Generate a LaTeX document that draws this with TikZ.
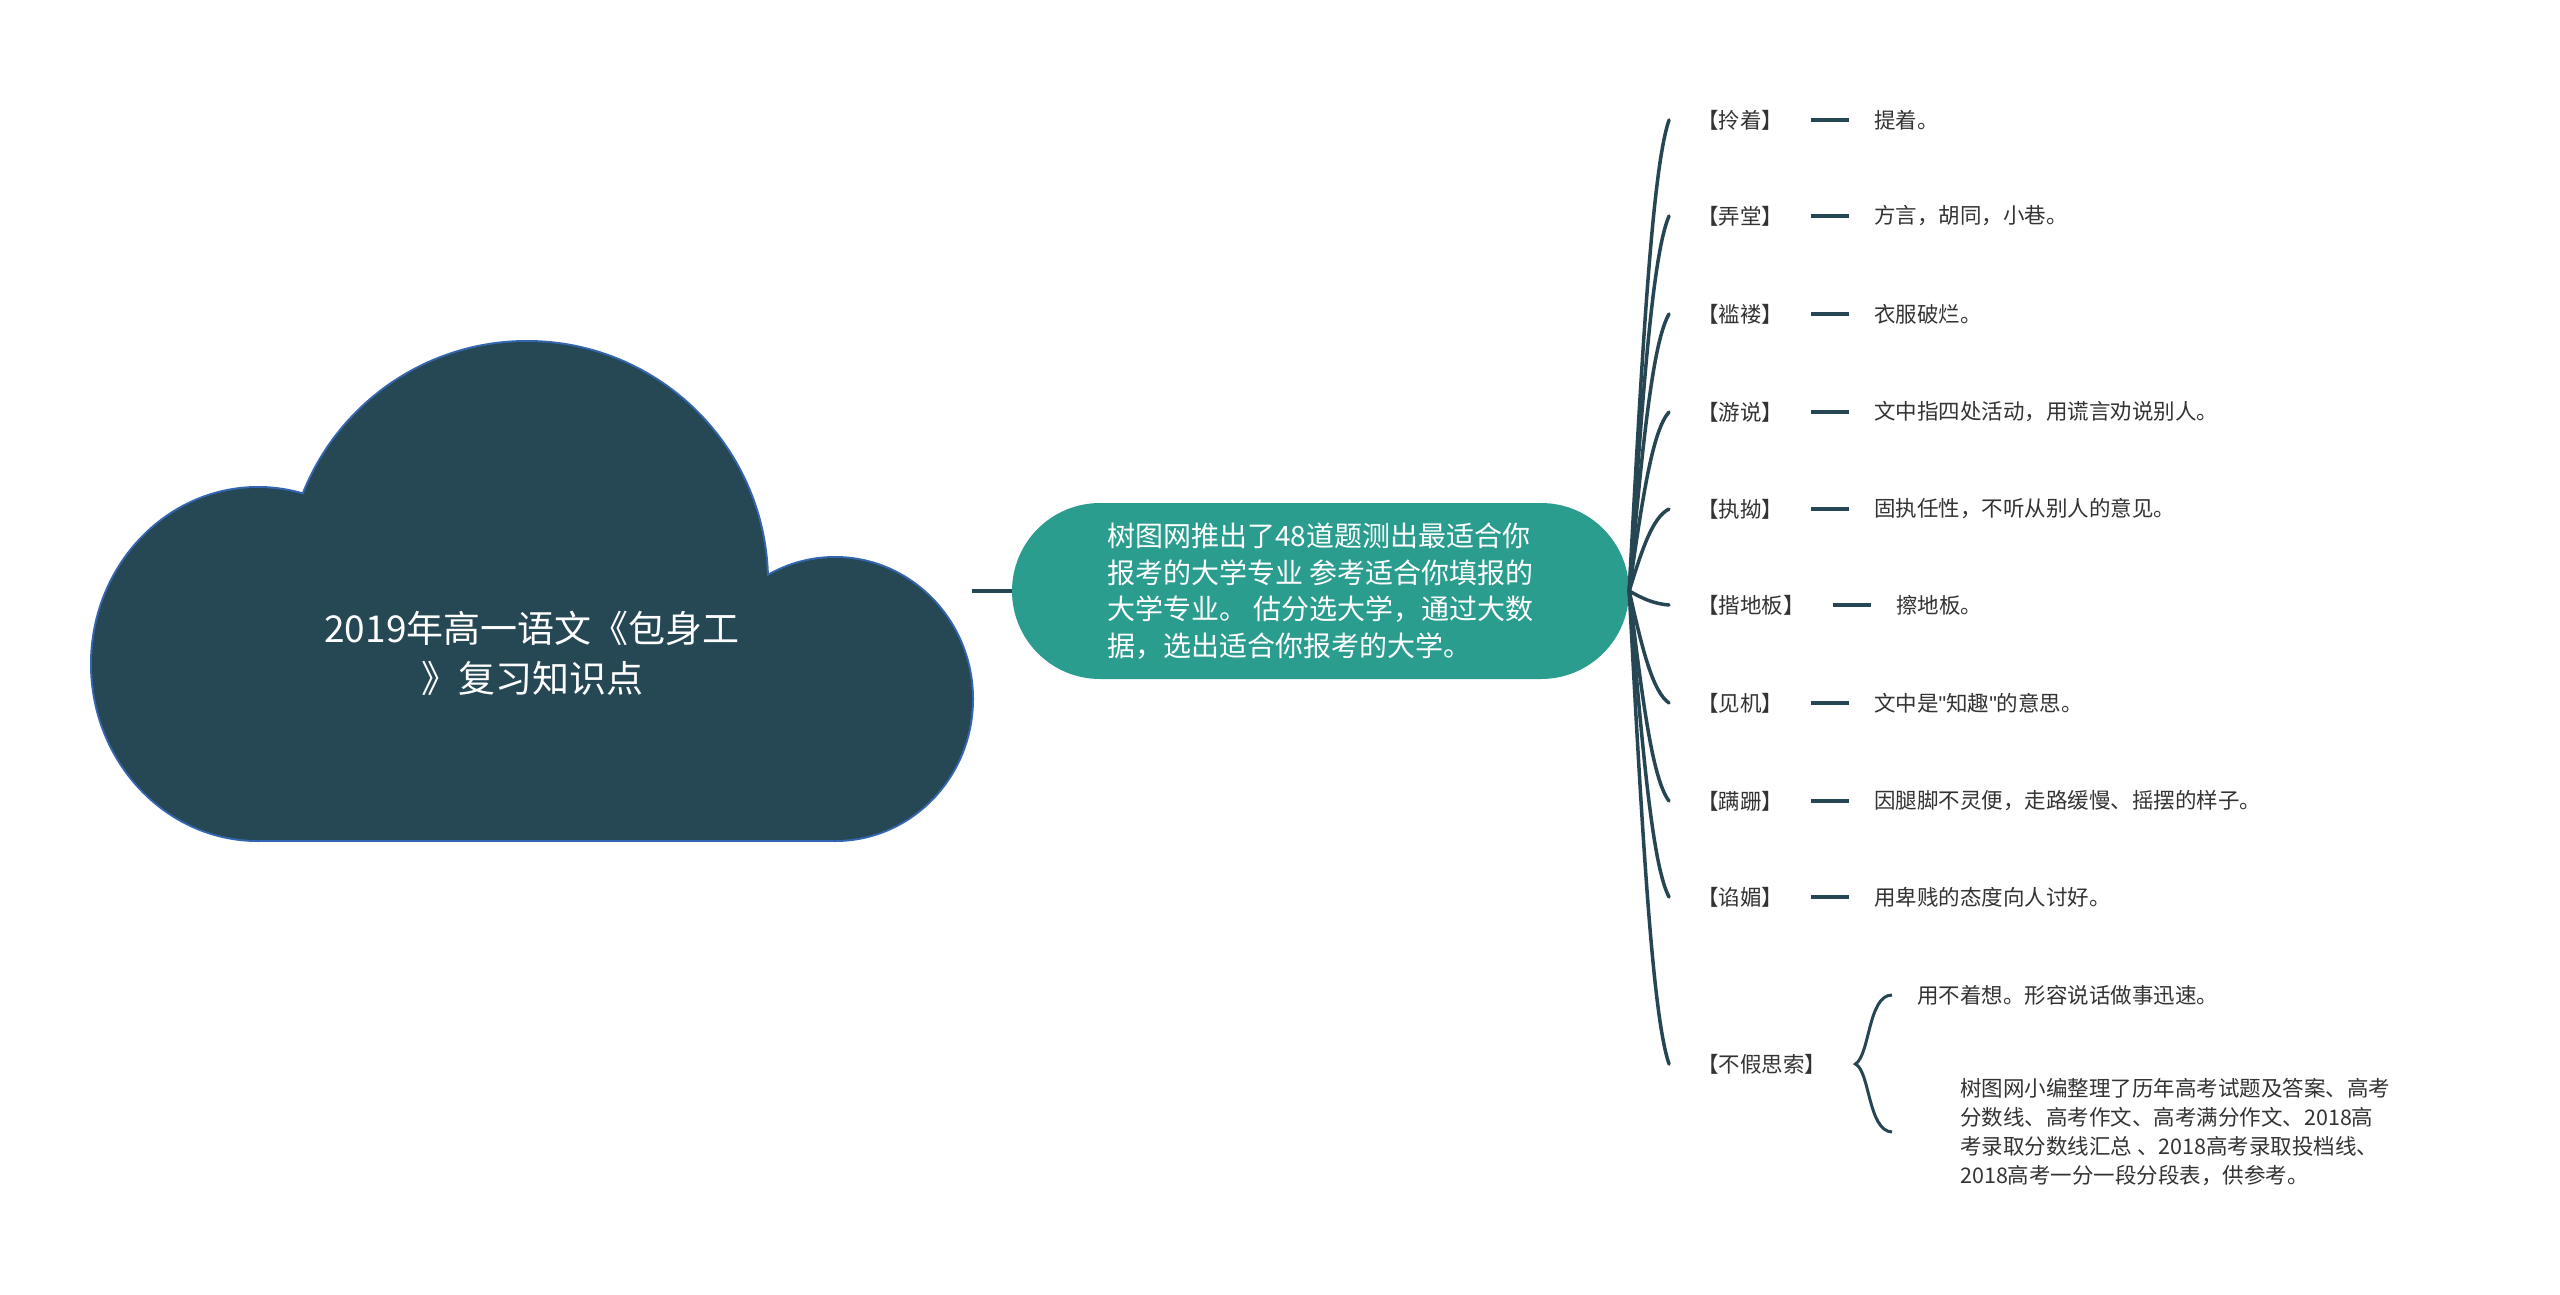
\documentclass[tikz,border=0pt]{standalone}
\usepackage{fontspec}
\setmainfont{Noto Sans CJK SC}
\newfontfamily\latf{Liberation Sans}
\usetikzlibrary{shapes.misc,calc}
\definecolor{dk}{HTML}{264653}
\definecolor{pillc}{HTML}{2A9D8F}
\definecolor{cloudc}{HTML}{264754}
\definecolor{cloudb}{HTML}{3467B0}
\definecolor{txt}{HTML}{333333}
\begin{document}
\begin{tikzpicture}[x=1pt,y=-1pt,
  lbl/.style={anchor=west, inner sep=0pt, text=txt, font=\fontsize{21.5}{29}\selectfont},
  dashline/.style={dk, line width=4.5pt},
  branch/.style={dk, line width=3.5pt, line cap=round}]
\useasboundingbox (0,0) rectangle (2560,1294);
% cloud: border then fill
\begin{scope}[cloudb, line width=4pt]
  \draw (258,664) ellipse [x radius=166, y radius=176];
  \draw (527,582) circle [radius=240];
  \draw (835,699) ellipse [x radius=137, y radius=141];
  \draw (258,664) rectangle (835,840);
\end{scope}
\begin{scope}[cloudc]
  \fill (258,664) ellipse [x radius=166, y radius=176];
  \fill (527,582) circle [radius=240];
  \fill (835,699) ellipse [x radius=137, y radius=141];
  \fill (258,664) rectangle (835,840);
\end{scope}
\node (cloud) at (532,653) [align=center, text=white, inner sep=0pt,
  font=\fontsize{37}{50}\selectfont] {2019年高一语文《包身工\\》复习知识点};
\coordinate (cloudR) at (972,591);
% pill
\node (pill) at (1320.5,591) [rounded rectangle, fill=pillc, inner sep=0pt,
  minimum width=617pt, minimum height=176pt, align=left, text=white,
  font=\fontsize{28}{36.5}\selectfont]
  {树图网推出了48道题测出最适合你\\报考的大学专业 参考适合你填报的\\大学专业。 估分选大学，通过大数\\据，选出适合你报考的大学。};
\draw[dashline] (cloudR) -- (pill.west);
% labels
\node[lbl] (k1) at (1697,120) {【拎着】};
\node[lbl] (k2) at (1697,216) {【弄堂】};
\node[lbl] (k3) at (1697,314) {【褴褛】};
\node[lbl] (k4) at (1697,412) {【游说】};
\node[lbl] (k5) at (1697,509) {【执拗】};
\node[lbl] (k6) at (1697,605) {【揩地板】};
\node[lbl] (k7) at (1697,703) {【见机】};
\node[lbl] (k8) at (1697,801) {【蹒跚】};
\node[lbl] (k9) at (1697,897) {【谄媚】};
\node[lbl] (k10) at (1697,1064) {【不假思索】};
% descriptions
\node[lbl] (d1) at (1874,120) {提着。};
\node[lbl] (d2) at (1874,216) {方言，胡同，小巷。};
\node[lbl] (d3) at (1874,314) {衣服破烂。};
\node[lbl] (d4) at (1874,412) {文中指四处活动，用谎言劝说别人。};
\node[lbl] (d5) at (1874,509) {固执任性，不听从别人的意见。};
\node[lbl] (d6) at (1896,605) {擦地板。};
\node[lbl] (d7) at (1874,703) {文中是{\latf "}知趣{\latf "}的意思。};
\node[lbl] (d8) at (1874,801) {因腿脚不灵便，走路缓慢、摇摆的样子。};
\node[lbl] (d9) at (1874,897) {用卑贱的态度向人讨好。};
\node[lbl] (s1) at (1917,995) {用不着想。形容说话做事迅速。};
\node[lbl, align=left] (s2) at (1960,1132) {树图网小编整理了历年高考试题及答案、高考\\分数线、高考作文、高考满分作文、2018高\\考录取分数线汇总 、2018高考录取投档线、\\2018高考一分一段分段表，供参考。};
% dashes
\foreach \i in {1,...,9} {
  \draw[dashline] ([xshift=28pt]k\i.east) -- ([xshift=-25pt]d\i.west);
}
% branches
\foreach \i/\y in {1/120,2/216,3/314,4/412,5/509,6/605,7/703,8/801,9/897,10/1064} {
  \pgfmathsetmacro\ca{591+0.55*(\y-591)}
  \pgfmathsetmacro\cb{\y-0.1*(\y-591)}
  \draw[branch] (pill.east) .. controls (1643,\ca) and (1653,\cb) .. ([xshift=-28pt]k\i.west);
}
% brace
\coordinate (tip) at ([xshift=29pt]k10.east);
\draw[branch, line cap=butt, line width=3pt] ([xshift=-25pt]s1.west) .. controls (1868,995) and (1870,1055) .. (tip)
  .. controls (1870,1071) and (1868,1131) .. ([xshift=-68pt]s2.west);
\end{tikzpicture}
\end{document}
